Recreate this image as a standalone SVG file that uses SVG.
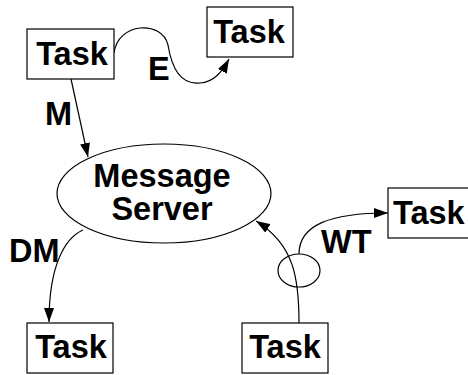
<svg xmlns="http://www.w3.org/2000/svg" width="468" height="375" viewBox="0 0 468 375">
  <style>
    .box { fill: #fff; stroke: #000; stroke-width: 1.2; }
    .lbl { font-family: "Liberation Sans", Arial, sans-serif; font-weight: bold; font-size: 32.5px; fill: #000; }
    .edge { fill: none; stroke: #000; stroke-width: 1.2; }
  </style>
  <defs>
    <marker id="arrow" viewBox="0 0 14 10" refX="14" refY="5" markerWidth="14" markerHeight="10" markerUnits="userSpaceOnUse" orient="auto">
      <path d="M0,0 L14,5 L0,10 Z" fill="#000"/>
    </marker>
  </defs>
  <rect width="468" height="375" fill="#fff"/>

  <g id="connectors">
    <!-- E: top-left task to top-right task -->
    <path class="edge" d="M114,53 C118,22 162,20 168,45 C172,70 182,85 200,83 C214,82 222,72 229,59" marker-end="url(#arrow)"/>
    <!-- M: task to server -->
    <path class="edge" d="M71,79 L88,157" marker-end="url(#arrow)"/>
    <!-- DM: server to bottom-left task -->
    <path class="edge" d="M83,230 C65,238 49,265 49,322" marker-end="url(#arrow)"/>
    <!-- bottom-right task to server -->
    <path class="edge" d="M299,323 C299,280 295,245 256,221" marker-end="url(#arrow)"/>
    <!-- WT: branch to right task -->
    <path class="edge" d="M299,254 C299,225 330,213 388,213" marker-end="url(#arrow)"/>
    <ellipse class="edge" cx="299" cy="270.5" rx="21" ry="16.5"/>
    <text class="lbl" x="45" y="125">M</text>
    <text class="lbl" x="148" y="80">E</text>
    <text class="lbl" x="9" y="262">DM</text>
    <text class="lbl" x="321" y="253">WT</text>
  </g>

  <g id="server">
    <ellipse class="box" cx="164" cy="193.5" rx="107" ry="49.5"/>
    <text class="lbl" x="162" y="187" text-anchor="middle">Message</text>
    <text class="lbl" x="162" y="220" text-anchor="middle">Server</text>
  </g>

  <g id="task-top-left">
    <rect class="box" x="27" y="29" width="87" height="50"/>
    <text class="lbl" x="72" y="65" text-anchor="middle">Task</text>
  </g>

  <g id="task-top-right">
    <rect class="box" x="207" y="7" width="86" height="50"/>
    <text class="lbl" x="249" y="43" text-anchor="middle">Task</text>
  </g>

  <g id="task-right">
    <rect class="box" x="388" y="188" width="86" height="50"/>
    <text class="lbl" x="393" y="224">Task</text>
  </g>

  <g id="task-bottom-left">
    <rect class="box" x="27" y="323" width="86" height="50"/>
    <text class="lbl" x="71" y="358" text-anchor="middle">Task</text>
  </g>

  <g id="task-bottom-right">
    <rect class="box" x="242" y="323" width="86" height="50"/>
    <text class="lbl" x="285" y="358" text-anchor="middle">Task</text>
  </g>
</svg>
